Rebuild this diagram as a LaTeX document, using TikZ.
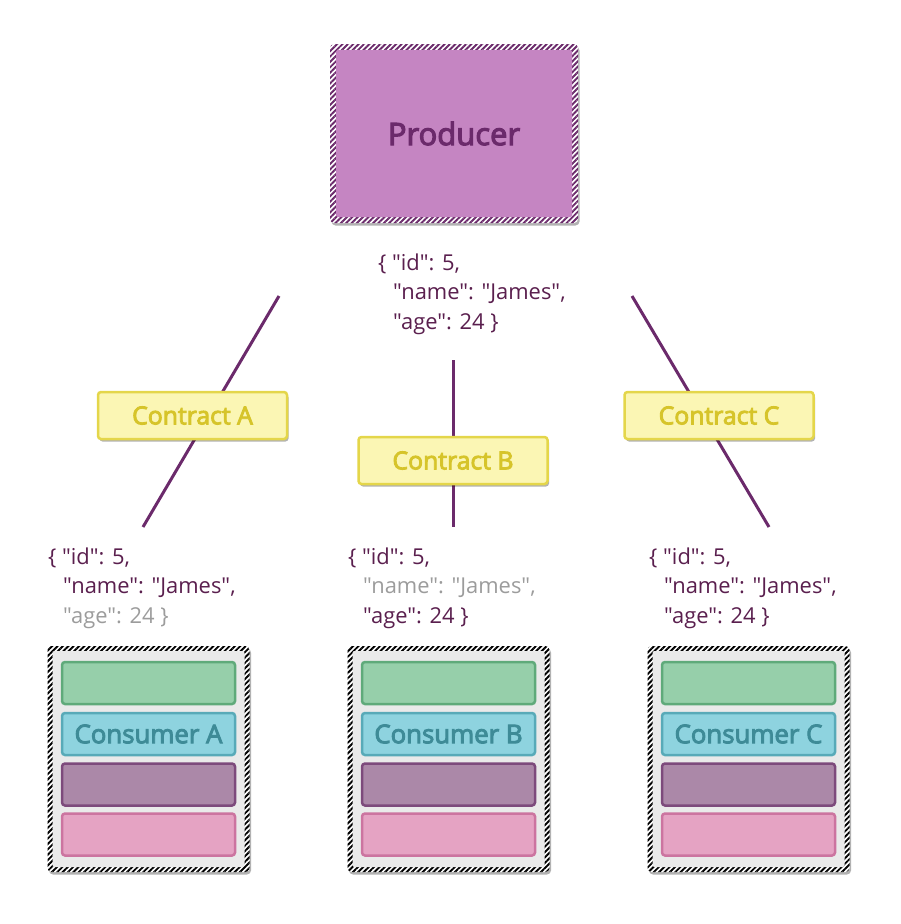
\documentclass[tikz,border=0pt]{standalone}
\usepackage{fontspec}
\setmainfont{Open Sans}[Ligatures=TeXOff]
\newfontfamily\semibold{Open Sans}[Ligatures=TeXOff, FakeBold=3.5]
\usetikzlibrary{patterns.meta,shadows}

\definecolor{prodfill}{HTML}{C585C2}
\definecolor{plum}{HTML}{6B2A6B}
\definecolor{jsontext}{HTML}{5A1F4E}
\definecolor{fadedtext}{HTML}{9C9C9C}
\definecolor{contractfill}{HTML}{FBF6B4}
\definecolor{contractedge}{HTML}{E4D64A}
\definecolor{contracttext}{HTML}{D6C42A}
\definecolor{greenfill}{HTML}{96CFAA}
\definecolor{greenedge}{HTML}{5FAA7A}
\definecolor{cyanfill}{HTML}{8ED3DF}
\definecolor{cyanedge}{HTML}{58AAB8}
\definecolor{cyantext}{HTML}{3E8B97}
\definecolor{mauvefill}{HTML}{AB88A8}
\definecolor{mauveedge}{HTML}{7D4A7C}
\definecolor{pinkfill}{HTML}{E5A3C3}
\definecolor{pinkedge}{HTML}{CC74A0}
\definecolor{shelf}{HTML}{EAEAEA}

\tikzset{
  softshadow/.style={drop shadow={shadow xshift=1.5pt, shadow yshift=-2.5pt, opacity=0.3, fill=black}},
  hatchring/.style={softshadow, preaction={fill=white},
    pattern={Lines[angle=45,distance=3.8pt,line width=1.9pt]}, pattern color=#1,
    rounded corners=4pt, inner sep=0pt},
  insetfill/.style 2 args={path picture={
    \fill[#1, rounded corners=2pt] ([shift={(#2,#2)}]path picture bounding box.south west)
      rectangle ([shift={(-#2,-#2)}]path picture bounding box.north east);}},
  producerbox/.style={hatchring=plum, insetfill={prodfill}{6pt},
    minimum width=248pt, minimum height=179pt,
    font=\semibold\fontsize{31}{34}\selectfont, text=plum},
  consumerbox/.style={hatchring=black, insetfill={shelf}{5pt},
    minimum width=202pt, minimum height=226pt},
  contractbox/.style={softshadow, fill=contractfill, draw=contractedge, line width=2.5pt,
    rounded corners=3pt, minimum width=189pt, minimum height=47pt,
    font=\semibold\fontsize{24.8}{27}\selectfont, text=contracttext},
  layer/.style 2 args={fill=#1, draw=#2, line width=2.5pt, rounded corners=3pt,
    minimum width=173pt, minimum height=42pt, inner sep=0pt},
  jsonline/.style={anchor=base west, inner sep=0pt,
    font=\fontsize{21.9}{26}\selectfont, text=jsontext},
  link/.style={draw=plum, line width=3pt},
}

% one JSON payload: name, left x, first baseline y, colours of the three lines
\newcommand\payload[6]{%
  \node[jsonline, text=#4] (#1id) at (#2,#3) {\{ "id": 5,};
  \node[jsonline, text=#5] (#1name) at (#2+15,#3+29.5) {"name": "James",};
  \node[jsonline, text=#6] (#1age) at (#2+15,#3+59) {"age": 24 \}};
}

\begin{document}
\begin{tikzpicture}[x=1pt,y=-1pt]
\useasboundingbox (0,0) rectangle (901,924);

% producer
\node[producerbox] (producer) at (454,133.5) {Producer};
\payload{top}{378}{270}{jsontext}{jsontext}{jsontext}

% contract links (drawn first so the contract labels sit on top)
\coordinate (la0) at (279,296);  \coordinate (la1) at (143,527);
\coordinate (lb0) at (453,360);  \coordinate (lb1) at (453,527);
\coordinate (lc0) at (632,296);  \coordinate (lc1) at (769,527);
\draw[link] (la0) -- (la1);
\draw[link] (lb0) -- (lb1);
\draw[link] (lc0) -- (lc1);

\node[contractbox] (contractA) at (192.5,415.5) {Contract A};
\node[contractbox] (contractB) at (453,460.5) {Contract B};
\node[contractbox] (contractC) at (719,415.5) {Contract C};

% what each consumer reads
\payload{pA}{48}{564}{jsontext}{jsontext}{fadedtext}
\payload{pB}{348}{564}{jsontext}{fadedtext}{jsontext}
\payload{pC}{649}{564}{jsontext}{jsontext}{jsontext}

% consumers
\foreach \c/\x in {A/148.5,B/448.5,C/748.5}{
  \node[consumerbox] (cons\c) at (\x,759) {};
  \node[layer={greenfill}{greenedge}] (green\c) at (\x,683) {};
  \node[layer={cyanfill}{cyanedge}, font=\semibold\fontsize{25.8}{28}\selectfont, text=cyantext]
    (name\c) at (\x,734) {Consumer \c};
  \node[layer={mauvefill}{mauveedge}] (mauve\c) at (\x,784.5) {};
  \node[layer={pinkfill}{pinkedge}] (pink\c) at (\x,834.5) {};
}
\end{tikzpicture}
\end{document}
